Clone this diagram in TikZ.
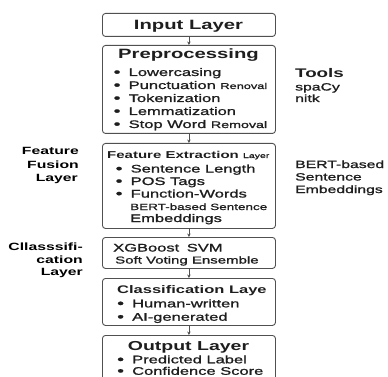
\documentclass[tikz,border=0pt]{standalone}
\usepackage{fontspec}
\setmainfont{Liberation Sans}[FakeStretch=1.5, UprightFeatures={FakeBold=1.2}]
\usetikzlibrary{arrows.meta}
\newcommand\fs[1]{\fontsize{#1}{#1}\selectfont}
\newcommand\bul{\makebox[15pt][l]{\smash{\raisebox{-0.4pt}{\fs{13}\textbullet}}}}
\definecolor{boxc}{HTML}{505050}
\definecolor{txtc}{HTML}{1E1E1E}
\begin{document}
\begin{tikzpicture}[x=1pt,y=-1pt,
  box/.style={draw=boxc, rounded corners=3pt, line width=0.9pt, inner sep=0pt, anchor=north west, minimum width=173pt},
  arr/.style={draw=boxc, line width=0.8pt, -{Stealth[length=3.5pt,width=3.5pt]}},
  tl/.style={inner sep=0pt, anchor=base, text=txtc, font=\bfseries\fs{13.5}},
  it/.style={inner sep=0pt, anchor=base west, text=txtc, font=\fs{11}},
  lab/.style={inner sep=0pt, anchor=base east, text=black, font=\bfseries\fs{10.5}},
  rt/.style={inner sep=0pt, anchor=base west, text=txtc, font=\fs{10.5}}]
\clip (0,0) rectangle (388,377);
\fill[white] (0,0) rectangle (388,377);
% boxes
\node[box, minimum height=23pt] (input) at (102,13) {};
\node[box, minimum height=88pt] (pre) at (102,45) {};
\node[box, minimum height=85pt] (feat) at (102,143) {};
\node[box, minimum height=31pt] (xgb) at (102,237) {};
\node[box, minimum height=47pt] (cls) at (102,278) {};
\node[box, minimum height=70pt] (out) at (102,335) {};
% arrows
\draw[arr] (input.south) -- (pre.north);
\draw[arr] (pre.south) -- (feat.north);
\draw[arr] (feat.south) -- (xgb.north);
\draw[arr] (xgb.south) -- (cls.north);
\draw[arr] (cls.south) -- (out.north);
% input
\node[tl] (tin) at (188.5,30) {Input Layer};
% preprocessing
\node[tl] (tpre) at (188.5,59) {Preprocessing};
\node[it] (p1) at (113.5,76) {\bul Lowercasing};
\node[it] (p2) at (113.5,89) {\bul Punctuation {\fs{8.5}Renoval}};
\node[it] (p3) at (113.5,102) {\bul Tokenization};
\node[it] (p4) at (113.5,115) {\bul Lemmatization};
\node[it] (p5) at (113.5,128) {\bul Stop Word {\fs{9.5}Removal}};
% feature extraction
\node[it, font=\fs{10}] (tfeat) at (107,158) {\textbf{Feature Extraction} {\fs{7}Layer}};
\node[it] (f1) at (115.5,172.5) {\bul Sentence Length};
\node[it] (f2) at (115.5,185) {\bul POS Tags};
\node[it] (f3) at (115.5,197.5) {\bul Function-Words};
\node[it, font=\fs{9}] (f4) at (130,210) {BERT-based Sentence};
\node[it] (f5) at (130,222) {Embeddings};
% classifiers
\node[it] (x1) at (113,251.5) {XGBoost\hspace{3pt} SVM};
\node[it, font=\fs{10}] (x2) at (115,263.5) {Soft Voting Ensemble};
% classification
\node[it, font=\bfseries\fs{11}] (tcls) at (117,293.3) {Classification Laye};
\node[it] (c1) at (117,307.3) {\bul Human-written};
\node[it] (c2) at (117,320.7) {\bul AI-generated};
% output
\node[tl, font=\bfseries\fs{13}] (tout) at (188.5,350) {Output Layer};
\node[it] (o1) at (117,363.3) {\bul Predicted Label};
\node[it] (o2) at (117,374.8) {\bul Confidence Score};
% left labels
\node[lab] (l1) at (79,154) {Feature};
\node[lab] (l2) at (79,168) {Fusion};
\node[lab] (l3) at (78,181.5) {Layer};
\node[lab] (l4) at (83,250) {Cllasssifi-};
\node[lab] (l5) at (83,263) {cation};
\node[lab] (l6) at (83,275.5) {Layer};
% right labels
\node[rt, font=\bfseries\fs{12.5}] (r1) at (295,78) {Tools};
\node[rt] (r2) at (295,90.5) {spaCy};
\node[rt] (r3) at (295,102) {nitk};
\node[rt] (r4) at (295,168) {BERT-based};
\node[rt] (r5) at (295,180.5) {Sentence};
\node[rt] (r6) at (295,193) {Embeddings};
\end{tikzpicture}
\end{document}
